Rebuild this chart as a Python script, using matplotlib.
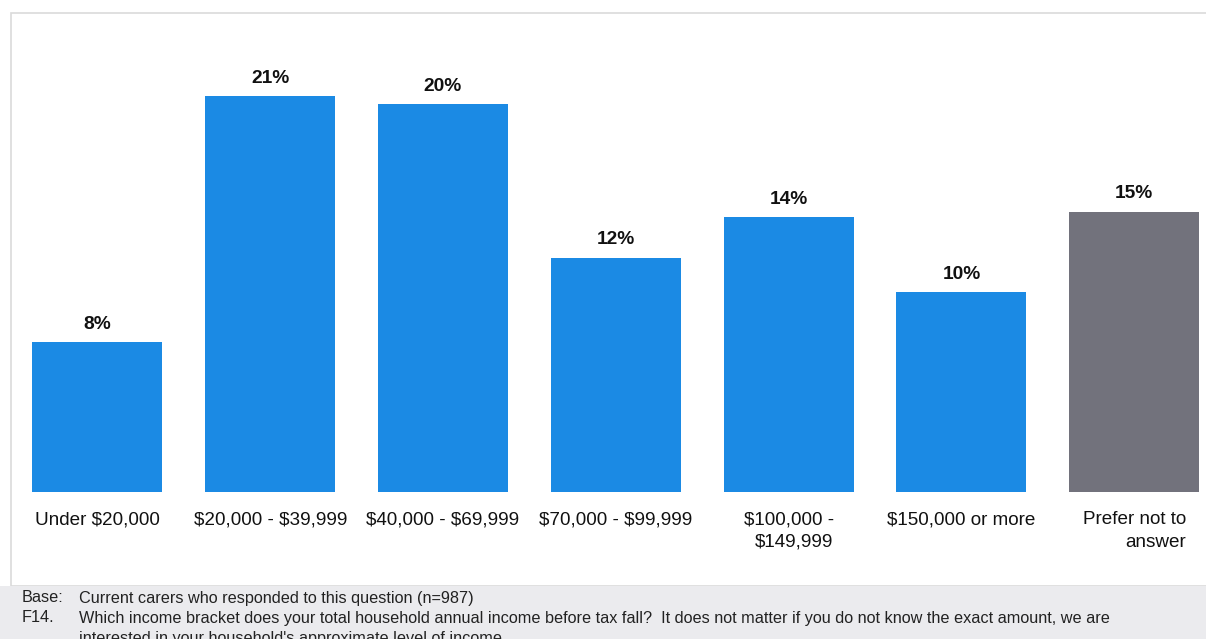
import numpy as np
import matplotlib.pyplot as plt
from matplotlib.patches import Rectangle

plt.rcParams['font.family'] = ['Liberation Sans', 'DejaVu Sans']
plt.rcParams['text.parse_math'] = False

# Income brackets and share of carers (%)
categories = ["Under $20,000", "$20,000 - $39,999", "$40,000 - $69,999",
              "$70,000 - $99,999", "$100,000 -\n$149,999", "$150,000 or more",
              "Prefer not to\nanswer"]
values = [7.8, 20.6, 20.2, 12.2, 14.3, 10.4, 14.6]
labels = ["8%", "21%", "20%", "12%", "14%", "10%", "15%"]

blue = "#1b8ae4"
grey = "#72727c"
colors = [blue] * 6 + [grey]

W, H = 1206, 639
fig = plt.figure(figsize=(W / 100, H / 100), dpi=100)

# frame round the chart area
fig.patches.append(Rectangle((11 / W, 1 - 586 / H), 1.2, (586 - 13) / H,
                             transform=fig.transFigure, facecolor="white",
                             edgecolor="#dadada", linewidth=1.2, zorder=-2))
# grey footer band
fig.patches.append(Rectangle((0, 0), 1, (H - 586) / H, transform=fig.transFigure,
                             facecolor="#ebebee", edgecolor="none", zorder=-1))

# axes: x from pixel 11 to right edge, y baseline at 492 and top at 13
ax = fig.add_axes([11 / W, 1 - 492 / H, (W - 11) / W, (492 - 13) / H])
ax.set_zorder(2)
ax.patch.set_alpha(0)
x = np.arange(len(categories))
step = 172.8
ax.bar(x, values, width=130 / step, color=colors)
ax.set_xlim(-0.5, -0.5 + (W - 11) / step)
ax.set_ylim(0, (492 - 13) / 19.2)

for xi, v, lab in zip(x, values, labels):
    ax.text(xi, v + 0.5, lab, ha="center", va="bottom", fontsize=13.8,
            fontweight="bold", color="#111111")

ax.set_xticks(x)
ax.set_xticklabels(categories, fontsize=13.6, color="#111111", multialignment="right",
                   va="top", linespacing=1.4)
ax.tick_params(axis="x", length=0, pad=14)
ax.set_yticks([])
for s in ax.spines.values():
    s.set_visible(False)

# footer notes
fs = 11.7
fig.text(22 / W, 1 - 598 / H, "Base:", fontsize=fs, color="#222222", va="center")
fig.text(79 / W, 1 - 598 / H, "Current carers who responded to this question (n=987)",
         fontsize=fs, color="#222222", va="center")
fig.text(22 / W, 1 - 618 / H, "F14.", fontsize=fs, color="#222222", va="center")
fig.text(79 / W, 1 - 618 / H,
         "Which income bracket does your total household annual income before tax fall?  "
         "It does not matter if you do not know the exact amount, we are",
         fontsize=fs, color="#222222", va="center")
fig.text(79 / W, 1 - 638 / H,
         "interested in your household's approximate level of income.",
         fontsize=fs, color="#222222", va="center")

fig.savefig("out.png", dpi=100)
